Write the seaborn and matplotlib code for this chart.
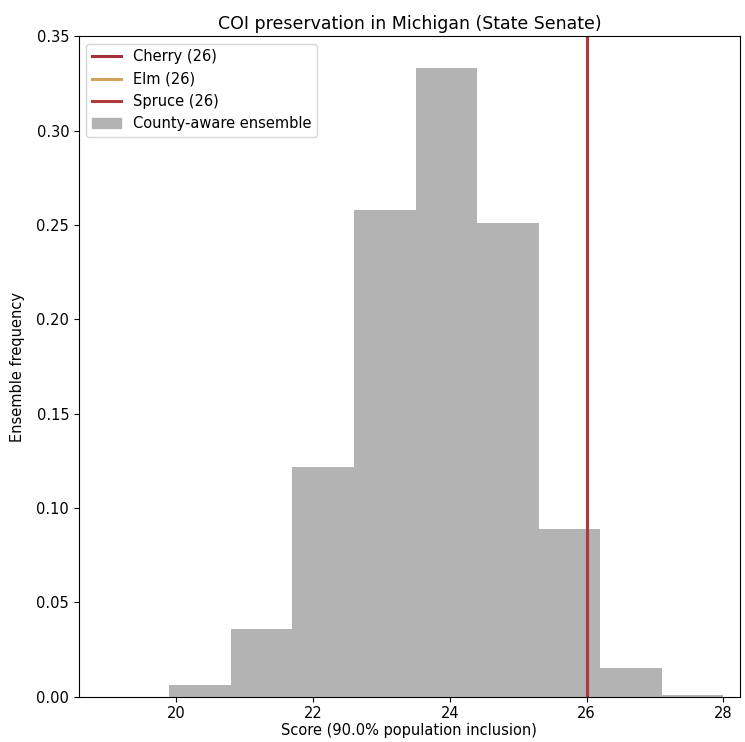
import seaborn as sb
import matplotlib.pyplot as plt
from matplotlib.lines import Line2D
from matplotlib.patches import Patch

# histogram bins (width 0.9)
bin_edges = [19.9, 20.8, 21.7, 22.6, 23.5, 24.4, 25.3, 26.2, 27.1, 28.0]
bin_mids = [20.35, 21.25, 22.15, 23.05, 23.95, 24.85, 25.75, 26.65, 27.55]
ens_freq = [0.006, 0.036, 0.122, 0.258, 0.333, 0.251, 0.089, 0.015, 0.001]

# plans and their scores
plan_names = ['Cherry', 'Elm', 'Spruce']
plan_scores = [26, 26, 26]
plan_colors = ['#a3303a', '#d2a25a', '#b03a3a']

fig, ax = plt.subplots(figsize=(7.45, 7.42), dpi=100)
plt.subplots_adjust(left=0.106, right=0.993, top=0.951, bottom=0.061)

# ensemble histogram
sb.histplot(x=bin_mids, weights=ens_freq, bins=bin_edges, stat='count',
            color='#b3b3b3', alpha=1, linewidth=0, ax=ax)

handles = []
for name, sc, col in zip(plan_names, plan_scores, plan_colors):
    ax.axvline(sc, color=col, lw=2.2)
    handles.append(Line2D([0], [0], color=col, lw=2.2, label=f'{name} ({sc})'))
handles.append(Patch(color='#b3b3b3', label='County-aware ensemble'))

ax.set_xlim(18.58, 28.24)
ax.set_ylim(0, 0.35)
ax.set_xticks([20, 22, 24, 26, 28])
ax.tick_params(labelsize=10.5)
ax.set_xlabel('Score (90.0% population inclusion)', fontsize=10.5, labelpad=1)
ax.set_ylabel('Ensemble frequency', fontsize=10.5, labelpad=8)
ax.set_title('COI preservation in Michigan (State Senate)', fontsize=12.5, pad=5)
ax.legend(handles=handles, loc='upper left', fontsize=10.5)

plt.savefig('out.png')
